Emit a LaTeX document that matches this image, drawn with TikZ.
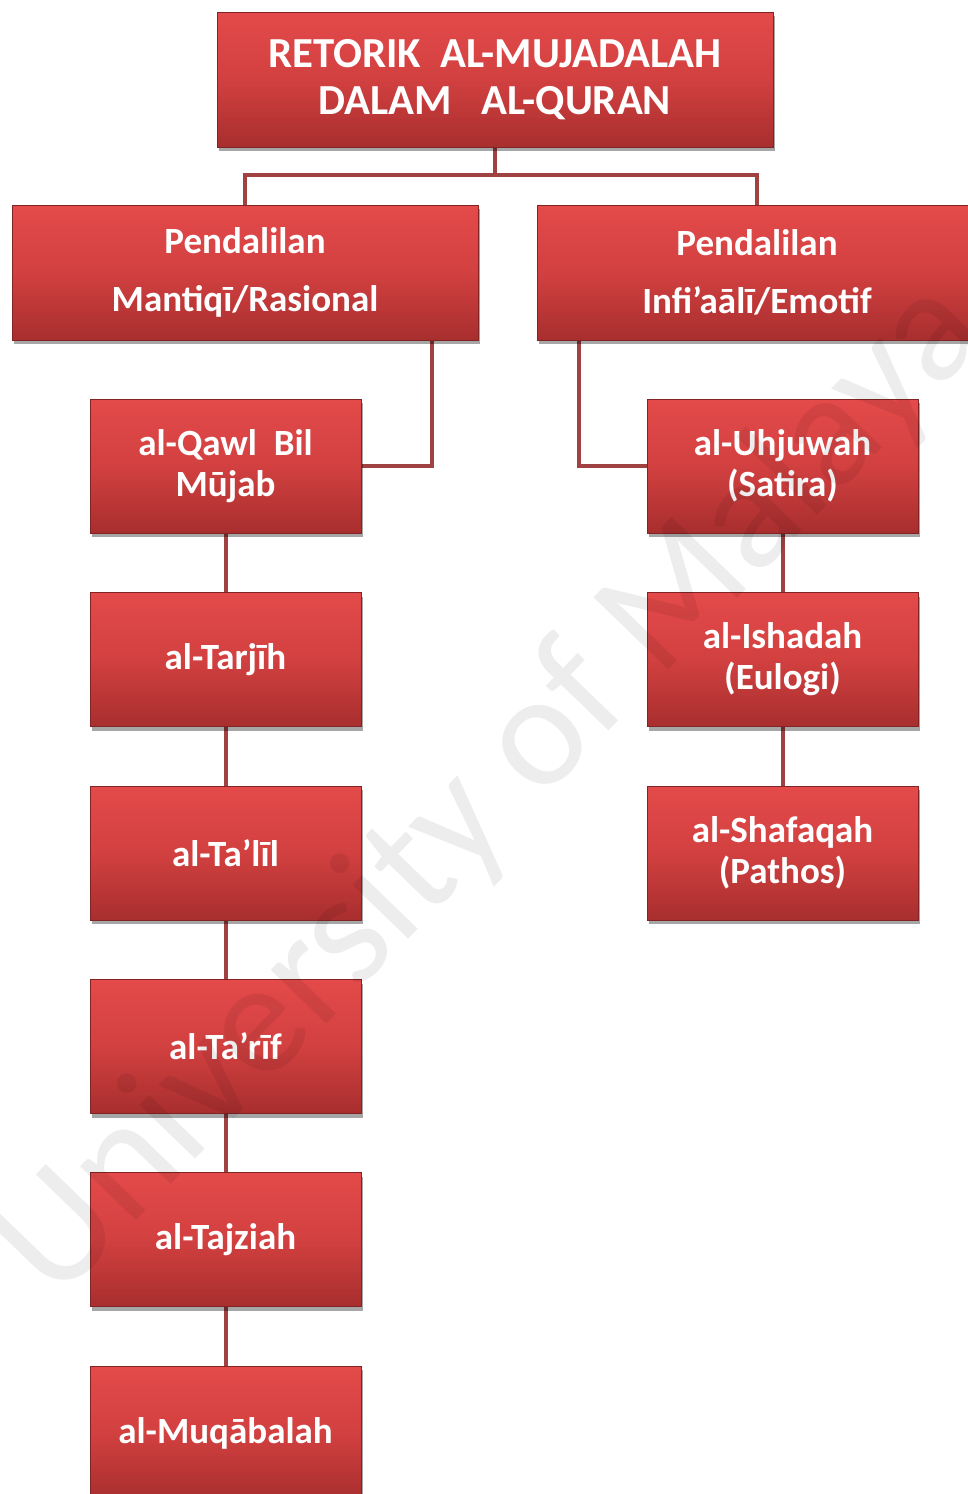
\documentclass[tikz,border=0pt]{standalone}
\usepackage{fontspec}
\setmainfont{Carlito}
\usetikzlibrary{shadows,backgrounds}
\definecolor{boxtop}{RGB}{228,74,74}
\definecolor{boxmid}{RGB}{210,64,64}
\definecolor{boxbot}{RGB}{168,46,46}
\definecolor{boxedge}{RGB}{130,36,36}
\definecolor{conncol}{RGB}{160,66,66}
\tikzset{
  box/.style={draw=boxedge, line width=0.8pt, top color=boxtop, bottom color=boxbot, middle color=boxmid,
    text=white, align=center, inner sep=0pt, font=\bfseries\fontsize{37}{41}\selectfont,
    drop shadow={shadow xshift=2pt, shadow yshift=-4pt, opacity=0.35, fill=black}},
  lbox/.style={box, minimum width=271pt, minimum height=134pt},
  conn/.style={draw=conncol, line width=4pt},
  wmark/.style={text=black, opacity=0.07, font=\fontsize{162}{162}\selectfont, rotate=46}
}
\begin{document}
\begin{tikzpicture}[x=1pt,y=-1pt]
\useasboundingbox (0,0) rectangle (968,1494);
\clip (0,0) rectangle (968,1494);
% boxes
\node[box, minimum width=556pt, minimum height=135pt, font=\bfseries\fontsize{42.8}{47}\selectfont] (top) at (495,79.5) {RETORIK~~AL-MUJADALAH\\DALAM~~~AL-QURAN};
\node[box, minimum width=466pt, minimum height=135pt, font=\bfseries\fontsize{37}{58}\selectfont] (L) at (245,272.5) {Pendalilan\\Mantiqī/Rasional};
\node[box, minimum width=440pt, minimum height=135pt, font=\bfseries\fontsize{37}{58}\selectfont] (R) at (757,272.5) {Pendalilan\\Infi’aālī/Emotif};
\node[lbox] (q1) at (225.5,466) {al-Qawl~~Bil\\Mūjab};
\node[lbox] (q2) at (225.5,659.5) {al-Tarjīh};
\node[lbox] (q3) at (225.5,853) {al-Ta’līl};
\node[lbox] (q4) at (225.5,1046.5) {al-Ta’rīf};
\node[lbox] (q5) at (225.5,1239.5) {al-Tajziah};
\node[lbox] (q6) at (225.5,1433) {al-Muqābalah};
\node[lbox] (u1) at (782.5,466) {al-Uhjuwah\\(Satira)};
\node[lbox] (u2) at (782.5,659.5) {al-Ishadah\\(Eulogi)};
\node[lbox] (u3) at (782.5,853) {al-Shafaqah\\(Pathos)};
% connectors
\begin{scope}[on background layer]
\coordinate (mid) at (495,175);
\draw[conn] (top.south) -- (mid);
\draw[conn] (mid) -| (L.north);
\draw[conn] (mid) -| (R.north);
\draw[conn] ([xshift=-46pt]L.south east) |- (q1.east);
\draw[conn] ([xshift=42pt]R.south west) |- (u1.west);
\draw[conn] (q1) -- (q2);
\draw[conn] (q2) -- (q3);
\draw[conn] (q3) -- (q4);
\draw[conn] (q4) -- (q5);
\draw[conn] (q5) -- (q6);
\draw[conn] (u1) -- (u2);
\draw[conn] (u2) -- (u3);
\end{scope}
% watermark
\node[wmark] (wm) at (492,790) {University of Malaya};
\end{tikzpicture}
\end{document}
